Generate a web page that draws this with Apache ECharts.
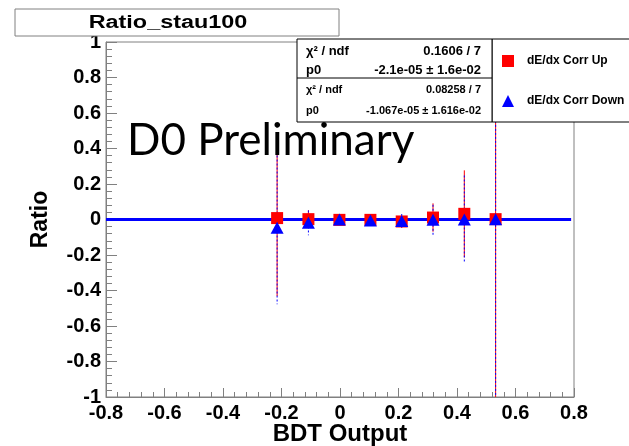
<!DOCTYPE html>
<html><head><meta charset="utf-8">
<script src="https://cdn.jsdelivr.net/npm/echarts@6/dist/echarts.min.js"></script>
<style>html,body{margin:0;padding:0;background:#fff}#c{width:629px;height:446px}</style>
</head><body><div id="c"></div>
<script>
// ---- data ----
const binX = [-0.215, -0.108, -0.002, 0.104, 0.211, 0.318, 0.425, 0.532];
const upY   = [0.008, 0.002, -0.002, -0.002, -0.011, 0.011, 0.032, 0.002];
const upErr = [0.44, 0.05, 0.02, 0.02, 0.03, 0.08, 0.245, 1.5];
const downY   = [-0.047, -0.019, 0.000, -0.006, -0.009, -0.002, 0.000, 0.002];
const downErr = [0.43, 0.07, 0.02, 0.02, 0.04, 0.085, 0.248, 1.5];
const fitUpP0 = -2.1e-05;
const fitDownP0 = -1.067e-05;
const fitRange = [-0.8, 0.79];
const seriesNames = ['dE/dx Corr Up', 'dE/dx Corr Down'];
const statsUp = ['χ² / ndf', '0.1606 / 7', 'p0', '-2.1e-05 ± 1.6e-02'];
const statsDown = ['χ² / ndf', '0.08258 / 7', 'p0', '-1.067e-05 ± 1.616e-02'];
const histTitle = 'Ratio_stau100';
const stampText = 'D0 Preliminary';
const xName = 'BDT Output', yName = 'Ratio';

const F = '"Liberation Sans", Arial, sans-serif';
const chart = echarts.init(document.getElementById('c'), null, {renderer:'canvas'});

function errSeries(name, ys, errs, color, dashed, z) {
  return {
    type: 'custom', name: name + ' err', clip: true, z: z, silent: true,
    data: binX.map((x, i) => [x, ys[i], errs[i]]),
    renderItem: function (params, api) {
      const x = api.value(0), y = api.value(1), e = api.value(2);
      const p1 = api.coord([x, y + e]), p2 = api.coord([x, y - e]);
      return {type: 'line', shape: {x1: p1[0], y1: p1[1], x2: p2[0], y2: p2[1]},
        style: {stroke: color, lineWidth: 1, lineDash: dashed ? [2, 2] : null}};
    }
  };
}
const fmt = v => (Math.abs(v) < 1e-9 ? '0' : String(+v.toFixed(1)));

const option = {
  animation: false,
  grid: {left: 106, right: 55, top: 42, bottom: 49, show: true, borderColor: '#808080', borderWidth: 1,
         backgroundColor: 'transparent', containLabel: false, outerBoundsMode: 'none'},
  xAxis: {
    type: 'value', min: -0.8, max: 0.8, interval: 0.2,
    name: xName, nameLocation: 'middle', nameGap: 25, nameMoveOverlap: false,
    nameTextStyle: {fontFamily: F, fontWeight: 'bold', fontSize: 24, color: '#000'},
    axisLine: {show: true, onZero: false, lineStyle: {color: '#808080', width: 1}},
    axisTick: {show: true, inside: true, length: 9, lineStyle: {color: '#808080'}},
    minorTick: {show: true, splitNumber: 5, length: 5, lineStyle: {color: '#808080'}},
    splitLine: {show: false},
    axisLabel: {fontFamily: F, fontWeight: 'bold', fontSize: 20, color: '#000', margin: 6, formatter: fmt}
  },
  yAxis: {
    type: 'value', min: -1, max: 1, interval: 0.2,
    name: yName, nameLocation: 'middle', nameGap: 54, nameMoveOverlap: false,
    nameTextStyle: {fontFamily: F, fontWeight: 'bold', fontSize: 23, color: '#000'},
    axisLine: {show: true, onZero: false, lineStyle: {color: '#808080', width: 1}},
    axisTick: {show: true, inside: true, length: 11, lineStyle: {color: '#808080'}},
    minorTick: {show: true, splitNumber: 5, length: 6, lineStyle: {color: '#808080'}},
    splitLine: {show: false},
    axisLabel: {fontFamily: F, fontWeight: 'bold', fontSize: 20, color: '#000', margin: 5, formatter: fmt}
  },
  legend: {
    orient: 'vertical', left: 497, top: 50, itemGap: 28, itemWidth: 12, itemHeight: 12,
    data: [{name: seriesNames[0], icon: 'rect'}, {name: seriesNames[1], icon: 'triangle'}],
    textStyle: {fontFamily: F, fontWeight: 'bold', fontSize: 12, color: '#000', padding: [0, 0, 0, 8]},
    z: 10
  },
  graphic: [
    {type: 'rect', z: 100, shape: {x: 15, y: 9, width: 324, height: 27}, style: {fill: '#fff', stroke: '#808080', lineWidth: 1}},
    {type: 'text', z: 101, x: 168, y: 23, scaleX: 1.3, style: {text: histTitle, fontFamily: F, fontWeight: 'bold', fontSize: 18, fill: '#000', align: 'center', verticalAlign: 'middle'}},
    {type: 'text', z: 101, x: 127, y: 141, style: {text: stampText, fontFamily: 'Lato, "Open Sans", sans-serif', fontSize: 44, fill: '#000', align: 'left', verticalAlign: 'middle'}},
    {type: 'rect', z: 100, shape: {x: 297, y: 39, width: 195, height: 83}, style: {fill: '#fff', stroke: '#000', lineWidth: 1}},
    {type: 'line', z: 101, shape: {x1: 297, y1: 78, x2: 492, y2: 78}, style: {stroke: '#000', lineWidth: 1}},
    {type: 'rect', z: 5, shape: {x: 492, y: 39, width: 150, height: 83}, style: {fill: '#fff', stroke: '#000', lineWidth: 1}},
    {type: 'text', z: 101, x: 306, y: 51, style: {text: statsUp[0], fontFamily: F, fontWeight: 'bold', fontSize: 13, fill: '#000', align: 'left', verticalAlign: 'middle'}},
    {type: 'text', z: 101, x: 481, y: 51, style: {text: statsUp[1], fontFamily: F, fontWeight: 'bold', fontSize: 13, fill: '#000', align: 'right', verticalAlign: 'middle'}},
    {type: 'text', z: 101, x: 306, y: 70, style: {text: statsUp[2], fontFamily: F, fontWeight: 'bold', fontSize: 13, fill: '#000', align: 'left', verticalAlign: 'middle'}},
    {type: 'text', z: 101, x: 481, y: 70, style: {text: statsUp[3], fontFamily: F, fontWeight: 'bold', fontSize: 13, fill: '#000', align: 'right', verticalAlign: 'middle'}},
    {type: 'text', z: 101, x: 306, y: 90, style: {text: statsDown[0], fontFamily: F, fontWeight: 'bold', fontSize: 11, fill: '#000', align: 'left', verticalAlign: 'middle'}},
    {type: 'text', z: 101, x: 481, y: 90, style: {text: statsDown[1], fontFamily: F, fontWeight: 'bold', fontSize: 11, fill: '#000', align: 'right', verticalAlign: 'middle'}},
    {type: 'text', z: 101, x: 306, y: 111, style: {text: statsDown[2], fontFamily: F, fontWeight: 'bold', fontSize: 11, fill: '#000', align: 'left', verticalAlign: 'middle'}},
    {type: 'text', z: 101, x: 481, y: 111, style: {text: statsDown[3], fontFamily: F, fontWeight: 'bold', fontSize: 11, fill: '#000', align: 'right', verticalAlign: 'middle'}}
  ],
  series: [
    {type: 'line', name: 'fitUp', data: [[fitRange[0], fitUpP0], [fitRange[1], fitUpP0]], symbol: 'none', lineStyle: {color: '#ff0000', width: 3}, z: 2, silent: true},
    {type: 'line', name: 'fitDown', data: [[fitRange[0], fitDownP0], [fitRange[1], fitDownP0]], symbol: 'none', lineStyle: {color: '#0000ff', width: 3}, z: 2, silent: true},
    errSeries(seriesNames[0], upY, upErr, '#ff0000', false, 3),
    errSeries(seriesNames[1], downY, downErr, '#0000ff', true, 3),
    {type: 'scatter', name: seriesNames[0], data: binX.map((x, i) => [x, upY[i]]), symbol: 'rect', symbolSize: 12, itemStyle: {color: '#ff0000', opacity: 1}, z: 4},
    {type: 'scatter', name: seriesNames[1], data: binX.map((x, i) => [x, downY[i]]), symbol: 'triangle', symbolSize: [13, 12], itemStyle: {color: '#0000ff', opacity: 1}, z: 4}
  ]
};
chart.setOption(option);
</script></body></html>
